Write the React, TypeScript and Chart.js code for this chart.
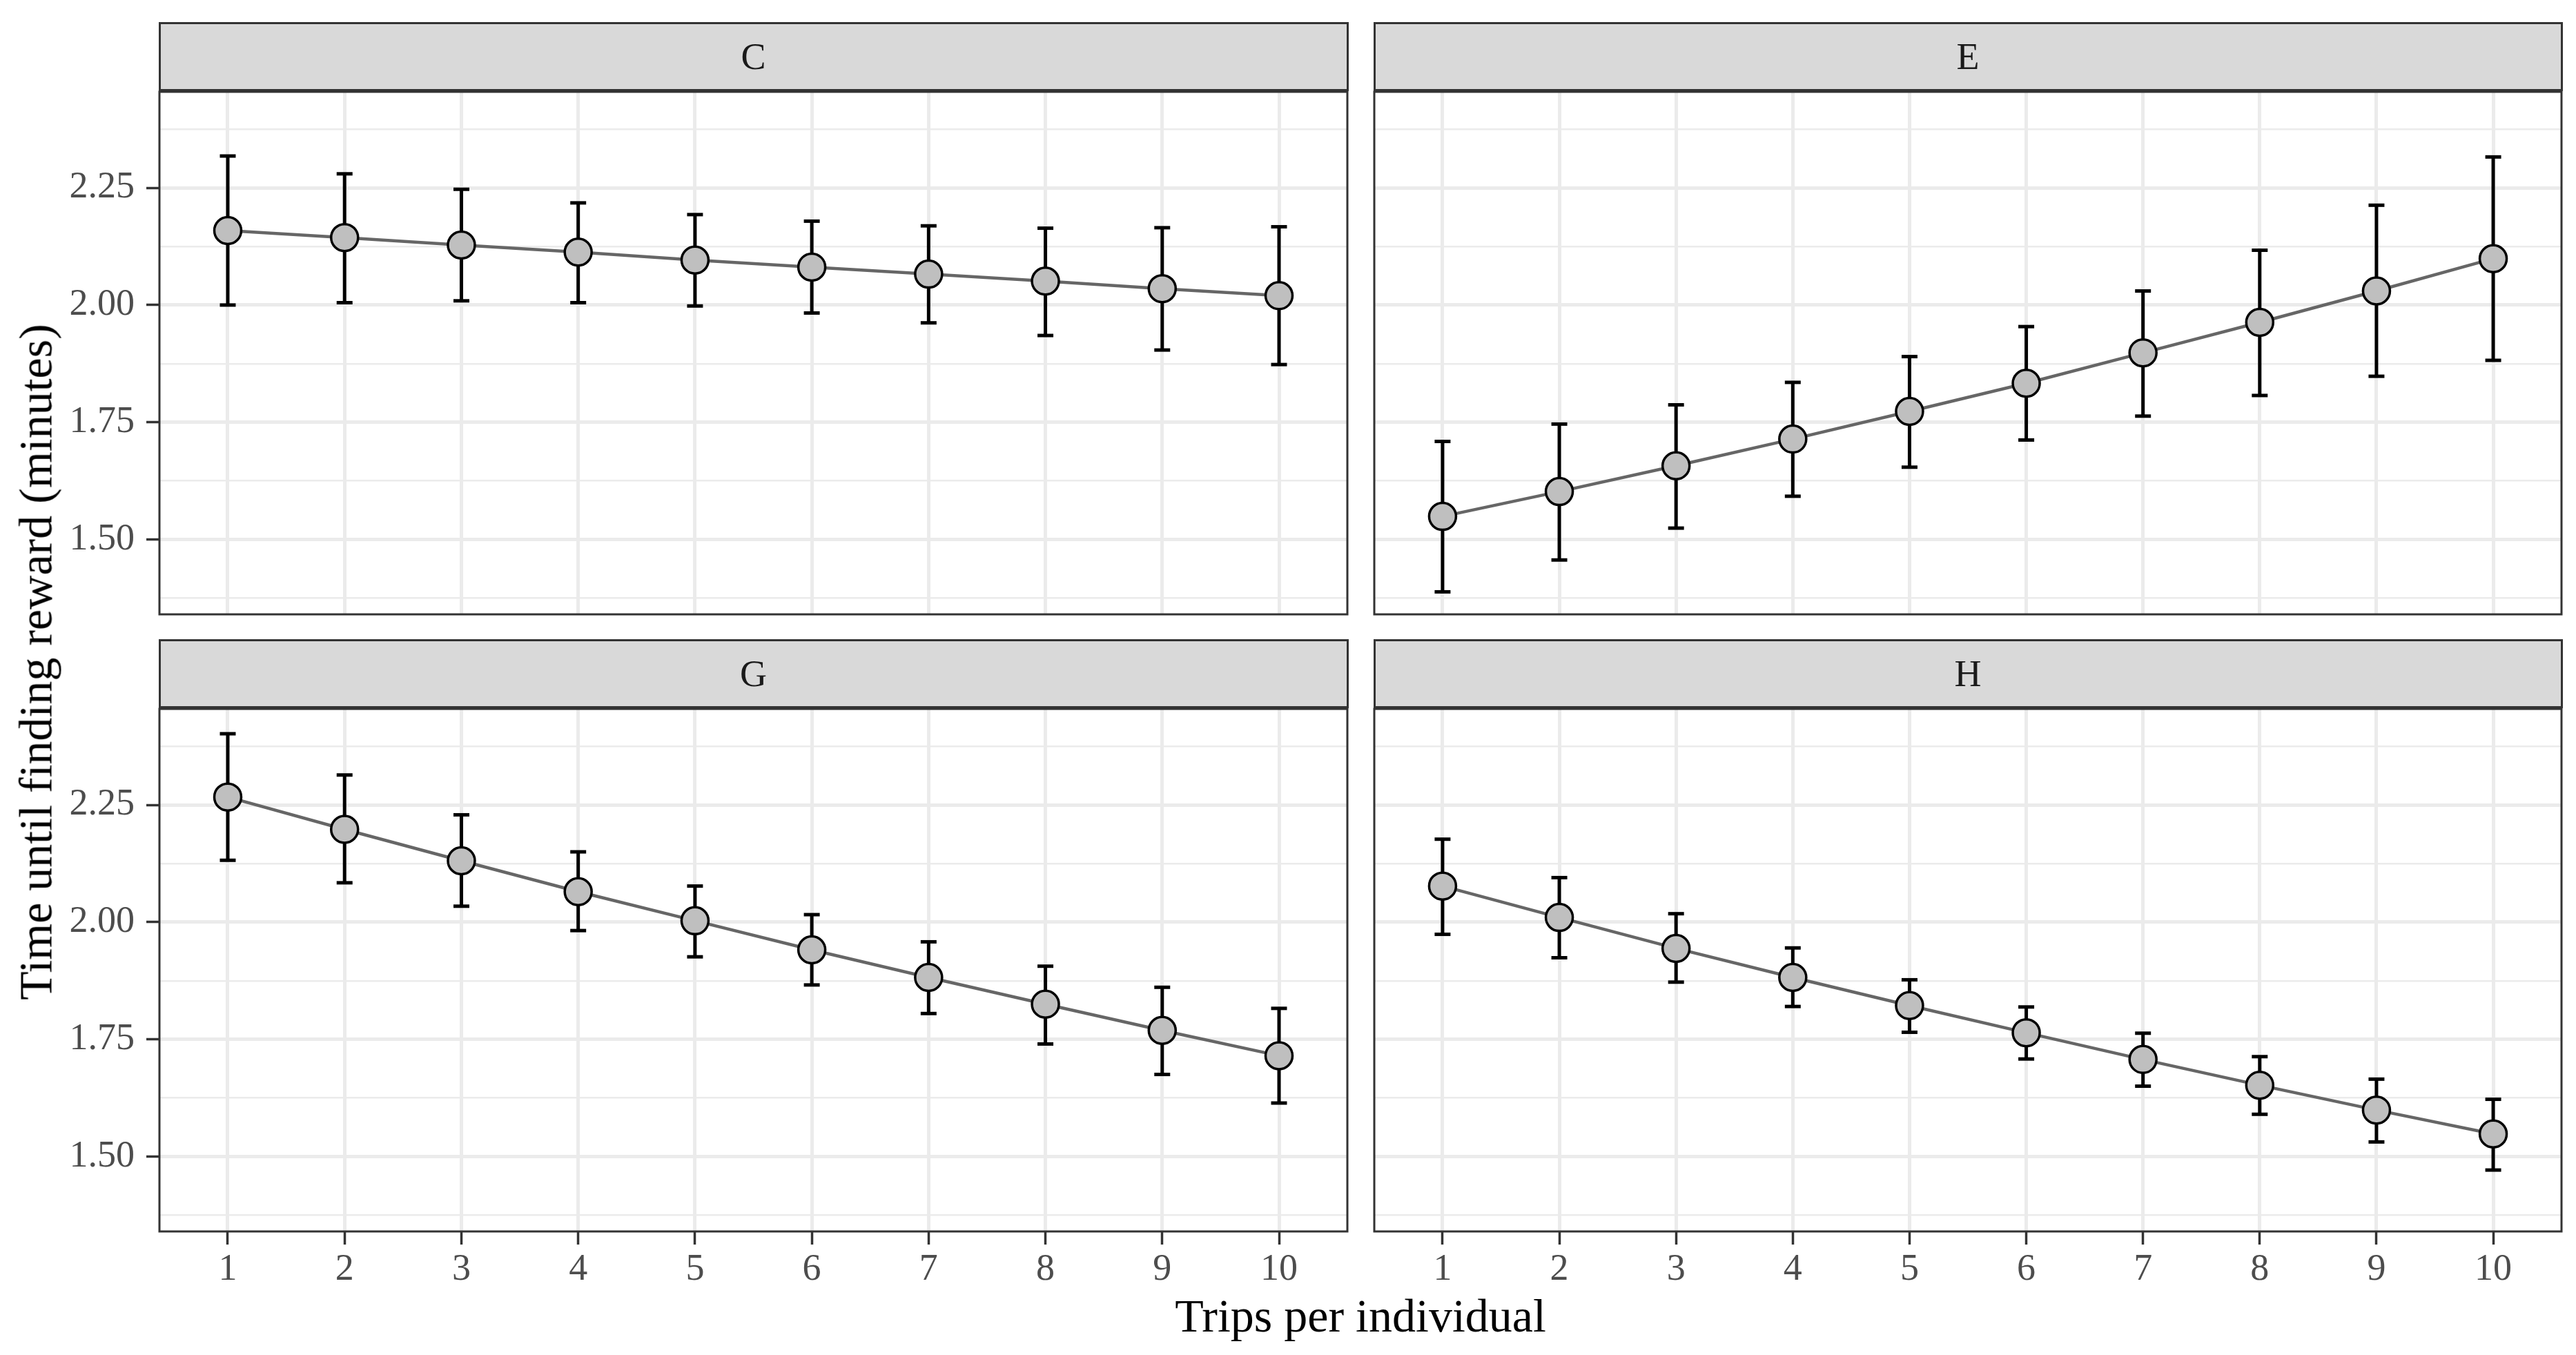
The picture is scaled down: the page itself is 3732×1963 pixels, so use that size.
import React, { useEffect, useRef } from "react";
import { Chart, registerables } from "chart.js";

Chart.register(...registerables);

// ---- Data ----
const trips = [1, 2, 3, 4, 5, 6, 7, 8, 9, 10];
const panelNames = ["C", "E", "G", "H"];

const meanC = [2.159, 2.144, 2.128, 2.113, 2.096, 2.081, 2.066, 2.051, 2.035, 2.02];
const lowC = [2.0, 2.005, 2.009, 2.005, 1.998, 1.983, 1.962, 1.935, 1.904, 1.873];
const highC = [2.318, 2.28, 2.247, 2.218, 2.193, 2.179, 2.169, 2.164, 2.165, 2.167];

const meanE = [1.549, 1.602, 1.657, 1.714, 1.773, 1.833, 1.898, 1.963, 2.03, 2.099];
const lowE = [1.388, 1.456, 1.524, 1.592, 1.654, 1.712, 1.763, 1.807, 1.848, 1.882];
const highE = [1.709, 1.746, 1.787, 1.835, 1.89, 1.954, 2.03, 2.117, 2.213, 2.316];

const meanG = [2.267, 2.198, 2.131, 2.065, 2.003, 1.941, 1.882, 1.825, 1.769, 1.715];
const lowG = [2.132, 2.084, 2.034, 1.982, 1.926, 1.866, 1.805, 1.74, 1.675, 1.614];
const highG = [2.402, 2.314, 2.229, 2.15, 2.077, 2.016, 1.958, 1.906, 1.861, 1.816];

const meanH = [2.077, 2.01, 1.944, 1.882, 1.822, 1.764, 1.707, 1.652, 1.599, 1.548];
const lowH = [1.974, 1.924, 1.872, 1.82, 1.765, 1.708, 1.65, 1.59, 1.531, 1.471];
const highH = [2.177, 2.095, 2.018, 1.945, 1.877, 1.819, 1.763, 1.713, 1.665, 1.622];

const yTicks = [1.375, 1.5, 1.625, 1.75, 1.875, 2.0, 2.125, 2.25, 2.375];
const yMajor = [1.5, 1.75, 2.0, 2.25];
const yRange = [1.34, 2.455];
const xRange = [0.415, 10.585];

const xTitle = "Trips per individual";
const yTitle = "Time until finding reward (minutes)";

const FONT = "'Liberation Serif', 'Times New Roman', serif";

const borderPlugin = {
  id: "panelBorder",
  afterDraw(chart: any) {
    const { ctx, chartArea: a } = chart;
    ctx.save();
    ctx.strokeStyle = "#333333";
    ctx.lineWidth = 3;
    ctx.strokeRect(a.left, a.top, a.right - a.left, a.bottom - a.top);
    ctx.restore();
  },
};

type PanelProps = {
  name: string;
  mean: number[];
  low: number[];
  high: number[];
  col: number;
  row: number;
};

function Panel({ name, mean, low, high, col, row }: PanelProps) {
  const ref = useRef<HTMLCanvasElement | null>(null);
  const plotLeft = col === 0 ? 231 : 1991;
  const plotRight = col === 0 ? 1952 : 3711;
  const plotTop = row === 0 ? 133 : 1027;
  const plotBottom = row === 0 ? 890 : 1784;
  const stripTop = row === 0 ? 32 : 926;
  const PAD = 80;
  const yAxisW = col === 0 ? 231 : 0;
  const xAxisH = row === 1 ? 130 : 0;
  const canvasLeft = col === 0 ? 0 : plotLeft - PAD;
  const canvasTop = plotTop - PAD;
  const canvasW = plotRight + PAD - canvasLeft;
  const canvasH = plotBottom + (row === 1 ? xAxisH : PAD) - canvasTop;

  useEffect(() => {
    if (!ref.current) return;
    const errData: any[] = [];
    trips.forEach((t, i) => {
      errData.push({ x: t, y: low[i] }, { x: t, y: high[i] }, { x: t, y: null });
    });
    const chart = new Chart(ref.current, {
      type: "line",
      data: {
        datasets: [
          {
            data: trips.map((t, i) => ({ x: t, y: mean[i] })),
            borderColor: "#666666",
            borderWidth: 4.5,
            pointRadius: 19.5,
            pointHoverRadius: 19.5,
            pointBackgroundColor: "#BFBFBF",
            pointBorderColor: "#000000",
            pointBorderWidth: 3.5,
            tension: 0,
          },
          {
            data: errData,
            borderColor: "#000000",
            borderWidth: 5,
            pointStyle: "line",
            pointRadius: 11.5,
            pointHoverRadius: 11.5,
            pointBorderWidth: 5,
            pointBorderColor: "#000000",
            spanGaps: false,
          },
        ],
      },
      options: {
        animation: false,
        responsive: false,
        devicePixelRatio: 1,
        events: [],
        layout: {
          padding: {
            left: col === 0 ? 0 : PAD,
            right: PAD,
            top: PAD,
            bottom: row === 1 ? 0 : PAD,
          },
        },
        plugins: {
          legend: { display: false },
          tooltip: { enabled: false },
          title: { display: false },
        },
        scales: {
          x: {
            type: "linear",
            min: xRange[0],
            max: xRange[1],
            afterBuildTicks: (s: any) => {
              s.ticks = trips.map((v) => ({ value: v }));
            },
            afterFit: (s: any) => {
              s.height = xAxisH;
            },
            border: { display: false },
            grid: {
              color: "#EBEBEB",
              lineWidth: 5,
              drawTicks: row === 1,
              tickLength: 19,
              tickColor: "#333333",
              tickWidth: 3.5,
            },
            ticks: {
              display: row === 1,
              autoSkip: false,
              maxRotation: 0,
              padding: 4,
              color: "#4D4D4D",
              font: { family: FONT, size: 54 },
              callback: (v: any) => String(v),
            },
          },
          y: {
            type: "linear",
            min: yRange[0],
            max: yRange[1],
            afterBuildTicks: (s: any) => {
              s.ticks = yTicks.map((v) => ({ value: v }));
            },
            afterFit: (s: any) => {
              s.width = yAxisW;
            },
            border: { display: false },
            grid: {
              color: "#EBEBEB",
              lineWidth: (ctx: any) =>
                ctx.tick && yMajor.includes(ctx.tick.value) ? 5 : 2.5,
              drawTicks: col === 0,
              tickLength: 19,
              tickColor: (ctx: any) =>
                ctx.tick && yMajor.includes(ctx.tick.value)
                  ? "#333333"
                  : "rgba(0,0,0,0)",
              tickWidth: 3.5,
            },
            ticks: {
              display: col === 0,
              autoSkip: false,
              padding: 17,
              color: "#4D4D4D",
              font: { family: FONT, size: 54 },
              callback: (v: any) =>
                yMajor.includes(v) ? Number(v).toFixed(2) : "",
            },
          },
        },
      },
      plugins: [borderPlugin],
    } as any);
    return () => chart.destroy();
  }, []);

  return (
    <>
      <canvas
        ref={ref}
        width={canvasW}
        height={canvasH}
        style={{
          position: "absolute",
          left: canvasLeft,
          top: canvasTop,
          width: canvasW,
          height: canvasH,
        }}
      />
      <div
        style={{
          position: "absolute",
          left: plotLeft - 1.5,
          top: stripTop,
          width: plotRight - plotLeft + 3,
          height: plotTop - 1.5 - stripTop,
          boxSizing: "border-box",
          background: "#D9D9D9",
          border: "3px solid #333333",
          display: "flex",
          alignItems: "center",
          justifyContent: "center",
          fontFamily: FONT,
          fontSize: 54,
          color: "#1A1A1A",
        }}
      >
        {name}
      </div>
    </>
  );
}

export default function App() {
  const panels = [
    { name: panelNames[0], mean: meanC, low: lowC, high: highC, col: 0, row: 0 },
    { name: panelNames[1], mean: meanE, low: lowE, high: highE, col: 1, row: 0 },
    { name: panelNames[2], mean: meanG, low: lowG, high: highG, col: 0, row: 1 },
    { name: panelNames[3], mean: meanH, low: lowH, high: highH, col: 1, row: 1 },
  ];
  return (
    <div
      style={{
        position: "absolute",
        left: 0,
        top: 0,
        width: 3732,
        height: 1963,
        background: "#FFFFFF",
        overflow: "hidden",
      }}
    >
      {panels.map((p) => (
        <Panel key={p.name} {...p} />
      ))}
      <div
        style={{
          position: "absolute",
          left: 1971,
          top: 1906,
          transform: "translate(-50%, -50%)",
          whiteSpace: "nowrap",
          fontFamily: FONT,
          fontSize: 68,
          color: "#000000",
        }}
      >
        {xTitle}
      </div>
      <div
        style={{
          position: "absolute",
          left: 52,
          top: 959,
          transform: "translate(-50%, -50%) rotate(-90deg)",
          whiteSpace: "nowrap",
          fontFamily: FONT,
          fontSize: 68,
          color: "#000000",
        }}
      >
        {yTitle}
      </div>
    </div>
  );
}
